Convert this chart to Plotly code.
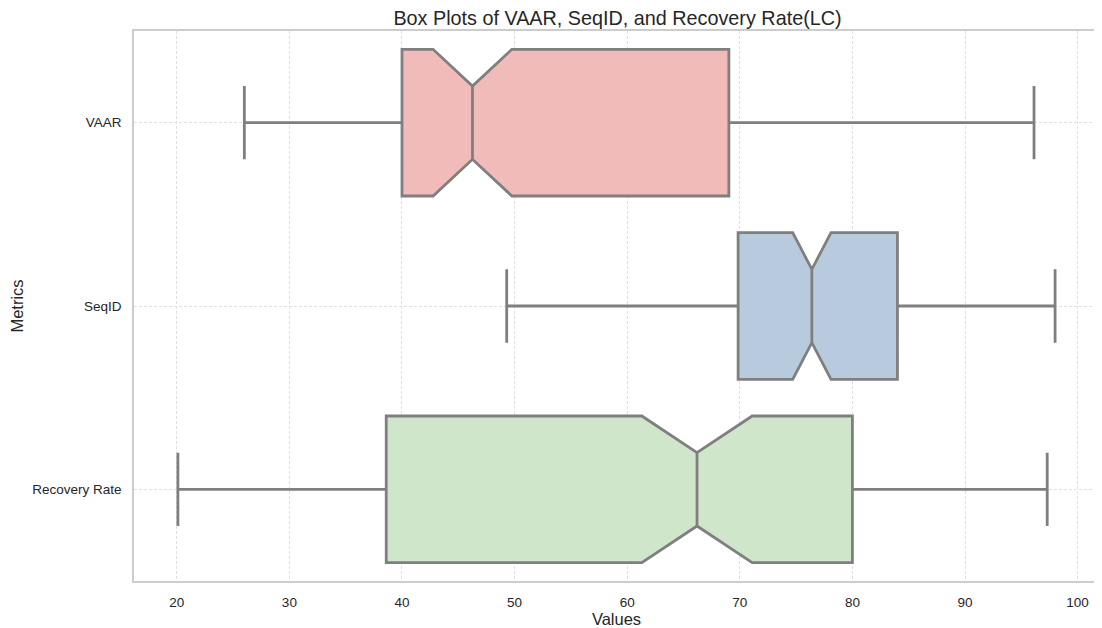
import plotly.graph_objects as go

categories = ["VAAR", "SeqID", "Recovery Rate"]
lower_whisker = [26.0, 49.3, 20.1]
q1_values = [40.0, 69.85, 38.6]
median_values = [46.26, 76.4, 66.2]
q3_values = [69.03, 84.0, 80.0]
upper_whisker = [96.13, 98.0, 97.3]
notch_half_span = [3.5, 1.7, 4.9]
fill_colors = ["#F0BBB8", "#B8CBDE", "#D0E6CB"]
x_ticks = [20, 30, 40, 50, 60, 70, 80, 90, 100]

FONT = "Arial, 'Liberation Sans', sans-serif"
TEXT = "#262626"

fig = go.Figure()
for i, cat in enumerate(categories):
    fig.add_trace(go.Box(
        y=[cat],
        orientation="h",
        q1=[q1_values[i]],
        median=[median_values[i]],
        q3=[q3_values[i]],
        lowerfence=[lower_whisker[i]],
        upperfence=[upper_whisker[i]],
        notchspan=[notch_half_span[i]],
        notched=True,
        notchwidth=0.25,
        whiskerwidth=0.5,
        width=0.8,
        boxpoints=False,
        fillcolor=fill_colors[i],
        line=dict(color="#7f7f7f", width=2.8),
        name=cat,
        showlegend=False,
    ))

# page body has an 8px default margin; figure sized to fit the window
fig.update_layout(
    width=1094, height=620,
    margin=dict(l=126, r=1, t=23, b=47),
    paper_bgcolor="white", plot_bgcolor="white",
    boxmode="overlay",
    font=dict(family=FONT, color=TEXT, size=13.5),
    title=dict(
        text="Box Plots of VAAR, SeqID, and Recovery Rate(LC)",
        x=609.5 / 1094, xanchor="center", y=1 - 10 / 620, yanchor="middle",
        yref="container",
        font=dict(size=19.8, family=FONT, color=TEXT),
    ),
)
fig.update_xaxes(
    range=[16.2, 101.9],
    tickvals=x_ticks,
    ticktext=[str(t) for t in x_ticks],
    showgrid=True, gridcolor="#e0e0e0", gridwidth=0.7, griddash="3px,2px",
    zeroline=False,
    showline=True, mirror=True, linecolor="#cccccc", linewidth=1.5,
    ticks="", ticklabelstandoff=8,
    tickfont=dict(size=13.5, family=FONT, color=TEXT),
    title=dict(text="Values", font=dict(size=16.5, family=FONT, color=TEXT), standoff=4),
)
fig.update_yaxes(
    type="category",
    categoryorder="array", categoryarray=categories,
    range=[2.5, -0.5],
    showgrid=True, gridcolor="#e0e0e0", gridwidth=0.7, griddash="3px,2px",
    zeroline=False,
    showline=True, mirror=True, linecolor="#cccccc", linewidth=1.5,
    ticks="", ticklabelstandoff=8,
    tickfont=dict(size=13.5, family=FONT, color=TEXT),
    title=dict(text="Metrics", font=dict(size=16.5, family=FONT, color=TEXT), standoff=8),
)

fig.write_html("out.html")
